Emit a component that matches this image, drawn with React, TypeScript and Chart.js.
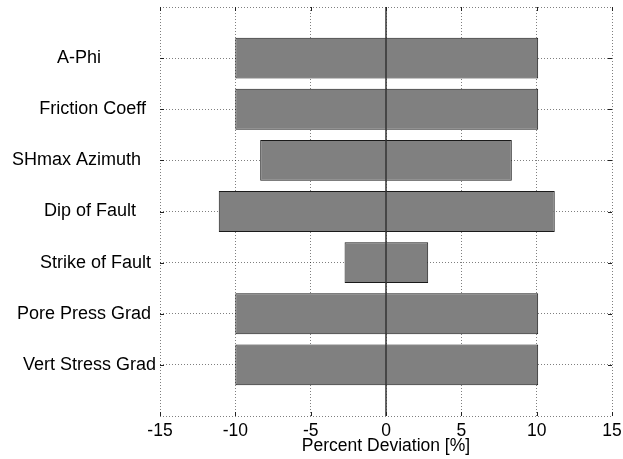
import React, { useEffect, useRef } from "react";
import { Chart, registerables } from "chart.js";

Chart.register(...registerables);

const categories = [
  "A-Phi",
  "Friction Coeff",
  "SHmax Azimuth",
  "Dip of Fault",
  "Strike of Fault",
  "Pore Press Grad",
  "Vert Stress Grad",
];
const lowValues = [-10, -10, -8.35, -11.1, -2.75, -10, -10];
const highValues = [10.1, 10.1, 8.35, 11.2, 2.8, 10.1, 10.1];
const xTicks = [-15, -10, -5, 0, 5, 10, 15];
const xTitle = "Percent Deviation [%]";

const FONT = "'Liberation Sans', Arial, sans-serif";

export default function App() {
  const ref = useRef<HTMLCanvasElement | null>(null);

  useEffect(() => {
    document.body.style.margin = "0";
    const canvas = ref.current!;
    const padLen = 16;
    const labels = ["", ...categories.map((c) => c.padEnd(padLen, " ")), ""];
    const data: any[] = [null, ...categories.map((_, i) => [lowValues[i], highValues[i]]), null];

    const overlay = {
      id: "overlay",
      afterDatasetsDraw(chart: any) {
        const { ctx, chartArea } = chart;
        const xs = chart.scales.x;
        const ys = chart.scales.y;
        ctx.save();
        const x0 = xs.getPixelForValue(0);
        ctx.strokeStyle = "#333";
        ctx.lineWidth = 1.5;
        ctx.beginPath();
        ctx.moveTo(x0, chartArea.top);
        ctx.lineTo(x0, chartArea.bottom);
        ctx.stroke();
        ctx.strokeStyle = "#222";
        ctx.lineWidth = 1;
        ctx.beginPath();
        for (let i = 1; i <= categories.length; i++) {
          const y = Math.round(ys.getPixelForValue(i)) + 0.5;
          ctx.moveTo(chartArea.left, y);
          ctx.lineTo(chartArea.left + 4, y);
          ctx.moveTo(chartArea.right, y);
          ctx.lineTo(chartArea.right - 4, y);
        }
        for (const t of xTicks) {
          const x = Math.round(xs.getPixelForValue(t)) + 0.5;
          ctx.moveTo(x, chartArea.top);
          ctx.lineTo(x, chartArea.top + 4);
          ctx.moveTo(x, chartArea.bottom);
          ctx.lineTo(x, chartArea.bottom - 4);
        }
        ctx.stroke();
        ctx.restore();
      },
    };

    const chart = new Chart(canvas, {
      type: "bar",
      data: {
        labels,
        datasets: [
          {
            data,
            backgroundColor: "#808080",
            borderColor: "#1a1a1a",
            borderWidth: 1,
            borderSkipped: false,
            barPercentage: 0.8,
            categoryPercentage: 1,
          },
        ],
      },
      options: {
        indexAxis: "y",
        responsive: false,
        animation: false,
        layout: { padding: { top: 7, right: 11, left: 0, bottom: 0 } },
        plugins: {
          legend: { display: false },
          tooltip: { enabled: false },
        },
        scales: {
          x: {
            type: "linear",
            min: -15,
            max: 15,
            afterBuildTicks: (scale: any) => {
              scale.ticks = xTicks.map((v) => ({ value: v }));
            },
            afterFit: (scale: any) => {
              scale.height = 43;
              scale.paddingLeft = 0;
              scale.paddingRight = 0;
            },
            ticks: {
              color: "#000",
              padding: 5,
              font: { family: FONT, size: 17.5 },
            },
            grid: {
              color: "rgba(0,0,0,0.5)",
              lineWidth: 1,
              drawTicks: false,
            },
            border: { display: false, dash: [1, 2] },
            title: {
              display: true,
              text: xTitle,
              color: "#000",
              font: { family: FONT, size: 17.5, lineHeight: 1.2 },
              padding: { top: 0, bottom: 2 },
            },
          },
          y: {
            type: "category",
            offset: false,
            afterFit: (scale: any) => {
              scale.width = 160;
              scale.paddingTop = 0;
              scale.paddingBottom = 0;
            },
            ticks: {
              color: "#000",
              padding: 4,
              autoSkip: false,
              font: { family: FONT, size: 18 },
            },
            grid: {
              offset: false,
              color: "rgba(0,0,0,0.5)",
              lineWidth: 1,
              drawTicks: false,
            },
            border: { display: false, dash: [1, 2] },
          },
        },
      },
      plugins: [overlay],
    } as any);

    return () => chart.destroy();
  }, []);

  return (
    <canvas
      ref={ref}
      width={623}
      height={459}
      style={{ display: "block", width: 623, height: 459 }}
    />
  );
}
